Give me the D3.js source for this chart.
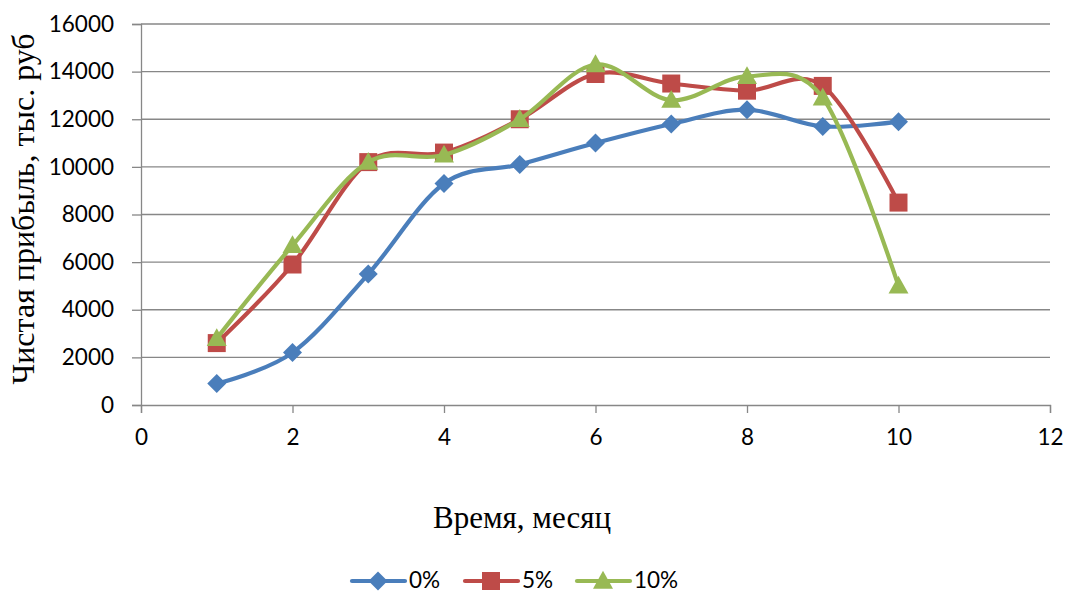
<!DOCTYPE html>
<html>
<head>
<meta charset="utf-8">
<script src="https://cdn.jsdelivr.net/npm/d3@7"></script>
<style>
  html, body { margin: 0; padding: 0; background: #fff; }
  svg { display: block; }
</style>
</head>
<body>
<svg id="chart" width="1066" height="594"></svg>
<script>
// Monthly net profit for three rates
const months = [1, 2, 3, 4, 5, 6, 7, 8, 9, 10];
const profit0 = [900, 2200, 5500, 9300, 10100, 11000, 11800, 12400, 11700, 11900];
const profit5 = [2600, 5900, 10200, 10600, 12000, 13900, 13500, 13200, 13400, 8500];
const profit10 = [2800, 6700, 10200, 10500, 12000, 14300, 12800, 13800, 12900, 5000];
const seriesNames = ["0%", "5%", "10%"];
const xTicks = [0, 2, 4, 6, 8, 10, 12];
const yTicks = [0, 2000, 4000, 6000, 8000, 10000, 12000, 14000, 16000];

const series = [
  { name: seriesNames[0], values: profit0, color: "#4A7EBB", marker: "diamond" },
  { name: seriesNames[1], values: profit5, color: "#BE4B48", marker: "square" },
  { name: seriesNames[2], values: profit10, color: "#98B954", marker: "triangle" }
];

const svg = d3.select("#chart");
const plotLeft = 141, plotRight = 1050, plotTop = 24, plotBottom = 405;

const x = d3.scaleLinear().domain([0, 12]).range([plotLeft, plotRight]);
const y = d3.scaleLinear().domain([0, 16000]).range([plotBottom, plotTop]);

const tickFont = "Lato, 'Open Sans', sans-serif";
const tickSize = 22.5;
const titleFont = "'Liberation Serif', 'Times New Roman', serif";
const axisGrey = "#878787";

// horizontal gridlines
svg.append("g")
  .selectAll("line")
  .data(yTicks.filter(d => d > 0))
  .join("line")
  .attr("x1", plotLeft).attr("x2", plotRight)
  .attr("y1", d => y(d)).attr("y2", d => y(d))
  .attr("stroke", axisGrey).attr("stroke-width", 1.3);

// y axis
const yAxis = svg.append("g")
  .attr("transform", `translate(${plotLeft},0)`)
  .call(d3.axisLeft(y).tickValues(yTicks).tickSize(9).tickPadding(18).tickFormat(d3.format("d")));
yAxis.select(".domain").attr("stroke", axisGrey).attr("stroke-width", 1.3);
yAxis.selectAll(".tick line").attr("stroke", axisGrey).attr("stroke-width", 1.3);
yAxis.selectAll("text").attr("font-family", tickFont).attr("font-size", tickSize).attr("fill", "#000");

// x axis
const xAxis = svg.append("g")
  .attr("transform", `translate(0,${plotBottom})`)
  .call(d3.axisBottom(x).tickValues(xTicks).tickSize(8).tickPadding(16).tickFormat(d3.format("d")));
xAxis.select(".domain").attr("stroke", axisGrey).attr("stroke-width", 1.3);
xAxis.selectAll(".tick line").attr("stroke", axisGrey).attr("stroke-width", 1.3);
xAxis.selectAll("text").attr("font-family", tickFont).attr("font-size", tickSize).attr("fill", "#000");

// axis titles
svg.append("text")
  .attr("x", 522).attr("y", 528)
  .attr("text-anchor", "middle")
  .attr("font-family", titleFont).attr("font-size", 31)
  .text("Время, месяц");

svg.append("text")
  .attr("transform", "translate(34,209) rotate(-90)")
  .attr("text-anchor", "middle")
  .attr("font-family", titleFont).attr("font-size", 32)
  .text("Чистая прибыль, тыс. руб");

// smoothed lines
const line = d3.line()
  .x((d, i) => x(months[i]))
  .y(d => y(d))
  .curve(d3.curveCatmullRom.alpha(0));

function markerPath(type, cx, cy) {
  if (type === "diamond") {
    const r = 9.5;
    return `M${cx},${cy - r}L${cx + r},${cy}L${cx},${cy + r}L${cx - r},${cy}Z`;
  }
  if (type === "square") {
    const r = 9;
    return `M${cx - r},${cy - r}H${cx + r}V${cy + r}H${cx - r}Z`;
  }
  const h = 17, w = 20;
  return `M${cx},${cy - h * 0.6}L${cx + w / 2},${cy + h * 0.45}L${cx - w / 2},${cy + h * 0.45}Z`;
}

series.forEach(s => {
  const g = svg.append("g");
  g.append("path")
    .attr("d", line(s.values))
    .attr("fill", "none")
    .attr("stroke", s.color)
    .attr("stroke-width", 4.2)
    .attr("stroke-linejoin", "round")
    .attr("stroke-linecap", "round");
  g.selectAll("path.m")
    .data(s.values)
    .join("path")
    .attr("class", "m")
    .attr("d", (d, i) => markerPath(s.marker, x(months[i]), y(d)))
    .attr("fill", s.color);
});

// legend
const legendX = [350, 463, 575];
const legend = svg.append("g");
series.forEach((s, i) => {
  const lx = legendX[i], ly = 581;
  legend.append("line")
    .attr("x1", lx + 2).attr("x2", lx + 55)
    .attr("y1", ly).attr("y2", ly)
    .attr("stroke", s.color).attr("stroke-width", 4.2)
    .attr("stroke-linecap", "round");
  legend.append("path")
    .attr("d", markerPath(s.marker, lx + 28, ly))
    .attr("fill", s.color);
  legend.append("text")
    .attr("x", lx + 59).attr("y", ly + 7)
    .attr("font-family", tickFont).attr("font-size", tickSize)
    .text(s.name);
});
</script>
</body>
</html>
